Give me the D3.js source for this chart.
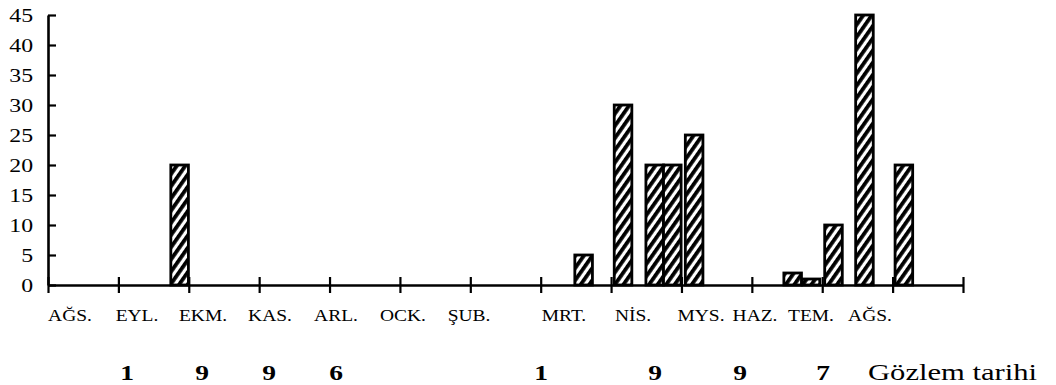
<!DOCTYPE html>
<html>
<head>
<meta charset="utf-8">
<script src="https://cdn.jsdelivr.net/npm/d3@7"></script>
<style>
  html, body { margin: 0; padding: 0; background: #fff; }
  svg { display: block; }
  text { font-family: "Liberation Serif", "DejaVu Serif", serif; fill: #000; }
</style>
</head>
<body>
<svg id="chart" width="1056" height="385"></svg>
<script>
// ---- data ----
const monthLabels = ["AĞS.", "EYL.", "EKM.", "KAS.", "ARL.", "OCK.", "ŞUB.", "MRT.", "NİS.", "MYS.", "HAZ.", "TEM.", "AĞS."];
// observation position, in months since start of Aug 1996 (bar centre)
const obsMonth = [1.87, 7.61, 8.17, 8.62, 8.87, 9.18, 10.58, 10.84, 11.16, 11.60, 12.16];
const obsValue = [20, 5, 30, 20, 20, 25, 2, 1, 10, 45, 20];
const yTicks = [0, 5, 10, 15, 20, 25, 30, 35, 40, 45];
const year1 = ["1", "9", "9", "6"];
const year2 = ["1", "9", "9", "7"];
const axisTitle = "Gözlem tarihi";

// ---- layout ----
const svg = d3.select("#chart");
const x = d3.scaleLinear().domain([0, 13]).range([48, 963]);
const y = d3.scaleLinear().domain([0, 45]).range([285, 15]);
const labelCx = [70, 137, 203, 270, 336, 403, 469, 564, 633, 701, 755, 811, 870];
const year1X = [127, 202, 269, 336];
const year2X = [541, 655, 740, 823];
const barW = 0.25; // months
const sx = 1.25;   // horizontal stretch of the typewritten text

// hatch pattern
const defs = svg.append("defs");
const pat = defs.append("pattern")
  .attr("id", "hatch")
  .attr("patternUnits", "userSpaceOnUse")
  .attr("width", 7).attr("height", 7)
  .attr("patternTransform", "rotate(35)");
pat.append("rect").attr("width", 7).attr("height", 7).attr("fill", "#fff");
pat.append("rect").attr("x", 0).attr("y", 0).attr("width", 3.8).attr("height", 7).attr("fill", "#000");

// bars
const bars = obsMonth.map((m, i) => ({ m, v: obsValue[i] }));
svg.append("g").selectAll("rect").data(bars).join("rect")
  .attr("x", d => x(d.m - barW / 2))
  .attr("width", d => x(barW) - x(0))
  .attr("y", d => y(d.v))
  .attr("height", d => y(0) - y(d.v))
  .attr("fill", "url(#hatch)")
  .attr("stroke", "#000")
  .attr("stroke-width", 2.8);

// y axis
const yAxis = svg.append("g")
  .attr("transform", `translate(${x(0)},0)`)
  .call(d3.axisLeft(y).tickValues(yTicks).tickSizeInner(-8).tickSizeOuter(0).tickPadding(0));
yAxis.select(".domain").attr("stroke-width", 2.6);
yAxis.selectAll(".tick line").attr("stroke-width", 2.2);
yAxis.selectAll(".tick text")
  .attr("x", 0)
  .attr("dy", "0.34em")
  .attr("text-anchor", "end")
  .attr("transform", `translate(-15,0) scale(${sx},1)`)
  .style("font-family", '"Liberation Serif", serif')
  .style("font-size", "19px");

// x axis
const xAxis = svg.append("g")
  .attr("transform", `translate(0,${y(0)})`)
  .call(d3.axisBottom(x).tickValues(d3.range(14)).tickSizeInner(8).tickSizeOuter(0).tickFormat(""));
xAxis.select(".domain").attr("stroke-width", 2.6);
xAxis.selectAll(".tick line").attr("y1", -8).attr("y2", 8).attr("stroke-width", 2.2);

// month labels
svg.append("g").selectAll("text").data(monthLabels).join("text")
  .attr("transform", (d, i) => `translate(${labelCx[i]},321) scale(1.18,1)`)
  .attr("text-anchor", "middle")
  .style("font-size", "16.5px")
  .text(d => d);

// year digits
const yearTxt = year1.map((t, i) => ({ t, cx: year1X[i] }))
  .concat(year2.map((t, i) => ({ t, cx: year2X[i] })));
svg.append("g").selectAll("text").data(yearTxt).join("text")
  .attr("transform", d => `translate(${d.cx},380) scale(${sx},1)`)
  .attr("text-anchor", "middle")
  .style("font-size", "22px")
  .style("font-weight", "bold")
  .text(d => d.t);

svg.append("text")
  .attr("transform", `translate(868,380) scale(1.36,1)`)
  .style("font-size", "22.5px")
  .text(axisTitle);
</script>
</body>
</html>
